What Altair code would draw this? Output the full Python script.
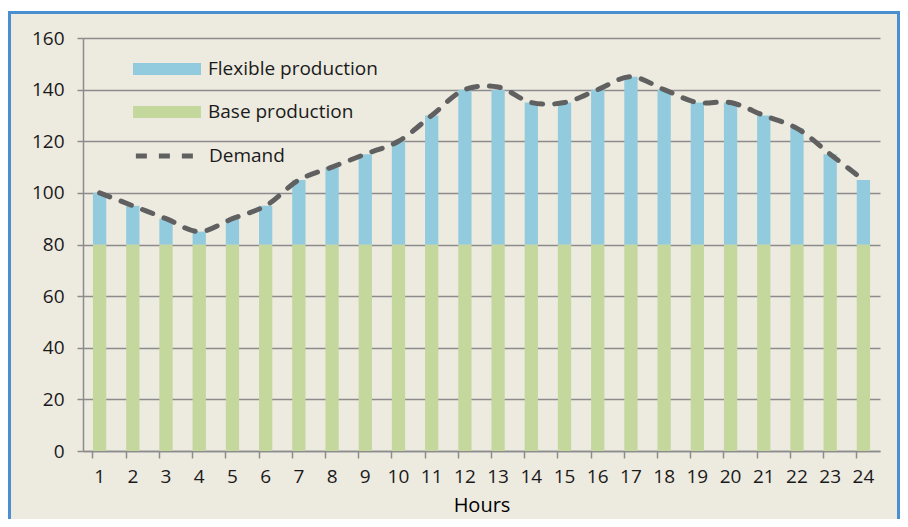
import altair as alt
import pandas as pd

hours = list(range(1, 25))
base = [80] * 24
flexible = [20, 15, 10, 5, 10, 15, 25, 30, 35, 40, 50, 60, 60, 55, 55, 60, 65, 60, 55, 55, 50, 45, 35, 25]
demand = [100, 95, 90, 85, 90, 95, 105, 110, 115, 120, 130, 140, 141, 135, 135, 140, 145, 140, 135, 135, 130, 125, 115, 105]
series_names = ["Flexible production", "Base production"]
colors = ["#92cbdd", "#c4d79c"]

rows = []
for h, b, f in zip(hours, base, flexible):
    rows.append({"hour": h, "series": "Base production", "value": b, "ord": 0})
    rows.append({"hour": h, "series": "Flexible production", "value": f, "ord": 1})
bars_df = pd.DataFrame(rows)
line_df = pd.DataFrame({"hour": hours, "demand": demand, "series": ["Demand"] * 24})

W, H = 797, 413
PL, PT, PR, PB = 75, 30, 20, 68
FONT = "Open Sans"
FS = 19

x_enc = alt.X("hour:O", title="Hours",
              scale=alt.Scale(paddingInner=0.6, paddingOuter=0.3),
              axis=alt.Axis(labelAngle=0, bandPosition=0, tickSize=7, tickColor="#8c8c8c",
                            domainColor="#8c8c8c", domainWidth=1.5, tickWidth=1.5,
                            labelFontSize=FS, labelColor="#1a1a1a", labelFont=FONT, labelPadding=9,
                            titleFontSize=20, titleFontWeight=500, titleColor="#000000", titleFont=FONT,
                            titlePadding=9, grid=False))

bars = alt.Chart(bars_df).mark_bar().encode(
    x=x_enc,
    y=alt.Y("value:Q", stack="zero", title=None,
            scale=alt.Scale(domain=[0, 160], nice=False),
            axis=alt.Axis(values=list(range(0, 161, 20)), grid=True, gridColor="#8c8c8c", gridWidth=1.5,
                          domainColor="#8c8c8c", domainWidth=1.5, tickColor="#8c8c8c", tickWidth=1.5,
                          tickSize=6, labelFontSize=FS, labelColor="#1a1a1a", labelFont=FONT,
                          labelPadding=13)),
    color=alt.Color("series:N", scale=alt.Scale(domain=series_names, range=colors),
                    legend=alt.Legend(title=None, orient="none", legendX=50, legendY=21,
                                      symbolType="M-1,-0.18H1V0.18H-1Z", symbolSize=4624,
                                      symbolStrokeWidth=0, symbolOpacity=1,
                                      clipHeight=20, rowPadding=23, labelOffset=7, padding=0,
                                      labelLimit=400,
                                      labelFontSize=FS, labelFont=FONT, labelColor="#1a1a1a")),
    order=alt.Order("ord:Q"),
)

line = alt.Chart(line_df).mark_line(
    interpolate="catmull-rom", color="#606060", strokeWidth=5, strokeCap="round"
).encode(
    x="hour:O",
    y="demand:Q",
    strokeDash=alt.StrokeDash("series:N", scale=alt.Scale(domain=["Demand"], range=[[11, 12]]),
                              legend=alt.Legend(title=None, orient="none", legendX=50, legendY=108,
                                                symbolType="stroke", symbolSize=4000,
                                                symbolStrokeColor="#606060", symbolStrokeWidth=5,
                                                clipHeight=20, labelOffset=7, padding=0,
                                                labelLimit=400,
                                                labelFontSize=FS, labelFont=FONT, labelColor="#1a1a1a")),
)

frame_data = alt.Data(values=[{"k": 1}])
frame = alt.Chart(frame_data).mark_rect(fill=None, stroke="#4a90d0", strokeWidth=3, clip=False).encode(
    x=alt.value(-PL + 1.5), x2=alt.value(W + PR - 1.5),
    y=alt.value(-PT + 4.5), y2=alt.value(H + PB + 40),
)
top_strip = alt.Chart(frame_data).mark_rect(fill="#ffffff", clip=False).encode(
    x=alt.value(-PL), x2=alt.value(W + PR),
    y=alt.value(-PT), y2=alt.value(-PT + 3),
)

chart = alt.layer(bars, line, top_strip, frame).resolve_scale(strokeDash="independent").properties(
    width=W, height=H,
    autosize=alt.AutoSizeParams(type="none"),
    padding={"left": PL, "top": PT, "right": PR, "bottom": PB},
    background="#edeae0",
).configure_view(stroke=None)

chart.save("out.html", embed_options={"renderer": "svg", "actions": False})
